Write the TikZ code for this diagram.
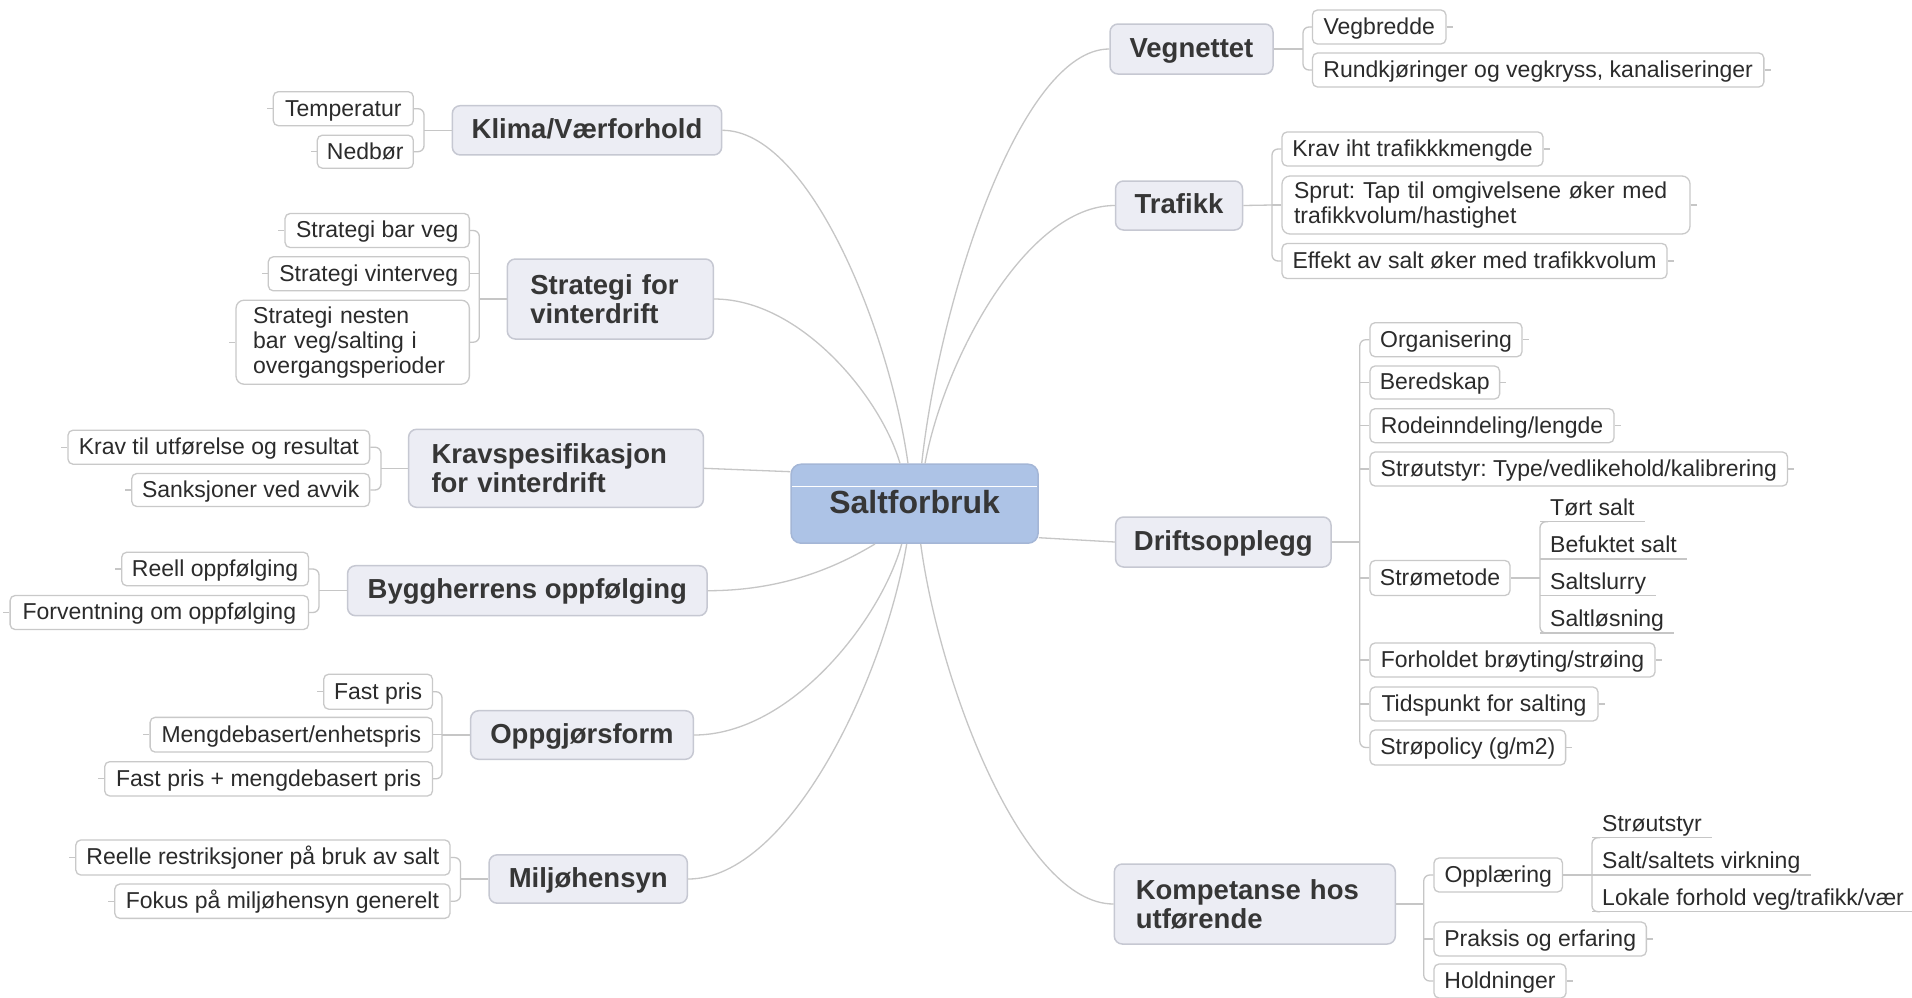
\documentclass[tikz,border=0pt]{standalone}
\usepackage{fontspec}
\setmainfont{Liberation Sans}
\frenchspacing
\definecolor{connc}{HTML}{C6C6C6}
\definecolor{leafb}{HTML}{C9C9C9}
\definecolor{topicf}{HTML}{ECEDF4}
\definecolor{topicb}{HTML}{C6C8D2}
\definecolor{centf}{HTML}{ADC3E6}
\definecolor{centb}{HTML}{A4B6D6}
\definecolor{txt}{HTML}{2B2B2B}
\definecolor{ttxt}{HTML}{363636}
\tikzset{
  conn/.style={draw=connc, line width=1.3pt},
  rc/.style={rounded corners=6pt},
  wh/.style 2 args={minimum width=#1pt, minimum height=#2pt},
  leafbase/.style={draw=leafb, fill=white, line width=1.3pt, rounded corners=5pt, inner sep=0pt, text=txt, font=\fontsize{23}{25}\selectfont\frenchspacing},
  leaf/.style={leafbase, text height=19.5pt, text depth=4.6pt},
  leafm/.style={leafbase, rounded corners=8pt, align=left},
  topicbase/.style={draw=topicb, fill=topicf, line width=1.5pt, rounded corners=8pt, inner sep=0pt, text=ttxt, font=\fontsize{27.5}{29}\selectfont\bfseries},
  topic/.style={topicbase, text height=22pt, text depth=6pt},
  topicm/.style={topicbase, align=left},
  central/.style={draw=centb, fill=centf, line width=1.5pt, rounded corners=10pt, inner sep=0pt, text=ttxt, font=\fontsize{32}{36}\selectfont\bfseries, text height=26.2pt, text depth=7pt},
  ulnode/.style={anchor=south west, inner xsep=10pt, inner ysep=1.5pt, text=txt, font=\fontsize{23}{25}\selectfont, text height=17pt, text depth=4.6pt},
}
\begin{document}
\begin{tikzpicture}[x=1pt,y=-1pt]
\fill[white] (0,0) rectangle (1912,997);
\useasboundingbox (0,0) rectangle (1912,997);

% central
\node[central, wh={247}{79}] (c) at (914.6,503.7) {Saltforbruk};
\draw[white, line width=0.9pt, shorten <=1.5pt, shorten >=1.5pt] ([yshift=17pt]c.west) -- ([yshift=17pt]c.east);

% right topics
\node[topic, wh={163}{50}] (veg) at (1191.5,49) {Vegnettet};
\node[topic, wh={127}{49}] (traf) at (1179,205.5) {Trafikk};
\node[topic, wh={215.4}{50}] (drift) at (1223.3,542) {Driftsopplegg};
\node[topicm, wh={281}{80}, text width=238pt] (komp) at (1254.8,904) {Kompetanse hos\\utførende};

% left topics
\node[topic, wh={269.4}{49.3}] (klima) at (587,130.3) {Klima/Værforhold};
\node[topicm, wh={206}{80}, text width=160pt] (strat) at (610.3,299) {Strategi for\\vinterdrift};
\node[topicm, wh={294.8}{78}, text width=249pt] (kravs) at (556,468.3) {Kravspesifikasjon\\for vinterdrift};
\node[topic, wh={359.5}{50}] (bygg) at (527.3,590.7) {Byggherrens oppfølging};
\node[topic, wh={222.7}{48.6}] (oppg) at (582,735) {Oppgjørsform};
\node[topic, wh={198.3}{48.3}] (milj) at (588.2,879) {Miljøhensyn};

% right leaves
\node[leaf, wh={133.5}{34}] (vegbredde) at (1379.2,27) {Vegbredde};
\node[leaf, wh={451.3}{34}] (rund) at (1538.2,70) {Rundkjøringer og vegkryss, kanaliseringer};
\node[leaf, wh={261}{34}] (krav1) at (1412.5,149) {Krav iht trafikkkmengde};
\node[leafm, wh={408}{58}, text width=384pt] (sprut) at (1486,205) {Sprut: Tap til omgivelsene øker med\\trafikkvolum/hastighet};
\node[leaf, wh={385}{35}] (effekt) at (1474.5,261) {Effekt av salt øker med trafikkvolum};

\node[leaf, wh={152}{34}] (org) at (1446,339.7) {Organisering};
\node[leaf, wh={129.6}{33}] (bered) at (1434.8,382.5) {Beredskap};
\node[leaf, wh={244}{34}] (rode) at (1492,425.7) {Rodeinndeling/lengde};
\node[leaf, wh={417.5}{34}] (strout) at (1578.8,469) {Strøutstyr: Type/vedlikehold/kalibrering};
\node[leaf, wh={140}{35}] (stromet) at (1440,578) {Strømetode};
\node[leaf, wh={285}{34}] (forh) at (1512.5,660) {Forholdet brøyting/strøing};
\node[leaf, wh={228}{34}] (tids) at (1484,704) {Tidspunkt for salting};
\node[leaf, wh={195.6}{35}] (strop) at (1467.8,747.5) {Strøpolicy (g/m2)};

\node[leaf, wh={128.5}{34}] (opp) at (1498.2,875) {Opplæring};
\node[leaf, wh={212.3}{34}] (praks) at (1540.2,939) {Praksis og erfaring};
\node[leaf, wh={132}{34}] (hold) at (1500,981) {Holdninger};

% underlined sub-leaves
\node[ulnode] (tort) at (1540,521.7) {Tørt salt};
\node[ulnode] (befukt) at (1540,559) {Befuktet salt};
\node[ulnode] (slurry) at (1540,595.7) {Saltslurry};
\node[ulnode] (losn) at (1540,633) {Saltløsning};
\node[ulnode] (su1) at (1592,837.7) {Strøutstyr};
\node[ulnode] (su2) at (1592,875) {Salt/saltets virkning};
\node[ulnode] (su3) at (1592,911.7) {Lokale forhold veg/trafikk/vær};

% left leaves
\node[leaf, wh={140}{34}] (temp) at (343.3,108.7) {Temperatur};
\node[leaf, wh={96}{33}] (nedb) at (365.3,151.7) {Nedbør};
\node[leaf, wh={184.3}{34}] (sbar) at (377.2,230.5) {Strategi bar veg};
\node[leaf, wh={201}{34}] (svint) at (368.8,273.8) {Strategi vinterveg};
\node[leafm, wh={233.3}{84}, text width=199pt] (snest) at (352.7,342.2) {Strategi nesten\\bar veg/salting i\\overgangsperioder};
\node[leaf, wh={301.6}{34}] (kravutf) at (218.8,447.2) {Krav til utførelse og resultat};
\node[leaf, wh={237.8}{33}] (sanks) at (250.7,490) {Sanksjoner ved avvik};
\node[leaf, wh={186.8}{33.5}] (reell) at (215.1,569) {Reell oppfølging};
\node[leaf, wh={298.4}{34}] (forv) at (159.3,612.5) {Forventning om oppfølging};
\node[leaf, wh={108.8}{35}] (fast) at (378.1,691.7) {Fast pris};
\node[leaf, wh={282.4}{34.7}] (mengde) at (291.3,734.7) {Mengdebasert/enhetspris};
\node[leaf, wh={327.8}{34.3}] (fastm) at (268.6,778.8) {Fast pris + mengdebasert pris};
\node[leaf, wh={374.2}{35}] (reelle) at (262.9,857.5) {Reelle restriksjoner på bruk av salt};
\node[leaf, wh={335.2}{34.3}] (fokus) at (282.4,901.2) {Fokus på miljøhensyn generelt};

% central connectors
\draw[conn] ([xshift=-6.6pt]c.north) .. controls (889.4,330.5) and (809.3,130.3) .. (klima.east);
\draw[conn] ([xshift=-14.6pt]c.north) .. controls (881.3,398) and (801,299) .. (strat.east);
\draw[conn] ([yshift=32pt]c.west) -- (kravs.east);
\draw[conn] ([xshift=-39.6pt]c.south) .. controls (840,565) and (786,590.7) .. (bygg.east);
\draw[conn] ([xshift=-12.9pt]c.south) .. controls (880.8,619.8) and (791,735) .. (oppg.east);
\draw[conn] ([xshift=-7.9pt]c.south) .. controls (884.7,677) and (790,879) .. (milj.east);
\draw[conn] ([xshift=7.1pt]c.north) .. controls (940,297) and (1021,49) .. (veg.west);
\draw[conn] ([xshift=10.4pt]c.north) .. controls (944,360) and (1026,205.5) .. (traf.west);
\draw[conn] ([yshift=-34pt]c.east) -- (drift.west);
\draw[conn] ([xshift=6.1pt]c.south) .. controls (940,687) and (1023.7,904) .. (komp.west);

% right brackets
\coordinate (vegb) at (1303,49);
\draw[conn] (veg.east) -- (vegb);
\draw[conn, rc] (vegbredde.west) -| (vegb) |- (rund.west);

\coordinate (trafb) at (1272,205);
\draw[conn] (traf.east) -- (trafb);
\draw[conn, rc] (krav1.west) -| (trafb) |- (effekt.west);
\draw[conn] (sprut.west) -- (sprut.west -| trafb);

\coordinate (driftb) at (1359.8,542);
\draw[conn] (drift.east) -- (driftb);
\draw[conn, rc] (org.west) -| (driftb) |- (strop.west);
\foreach \n in {bered,rode,strout,stromet,forh,tids}
  \draw[conn] (\n.west) -- (\n.west -| driftb);

\coordinate (smb) at (1540,578);
\draw[conn] (stromet.east) -- (smb);
\foreach \n in {tort,befukt,slurry,losn,su1,su2,su3}
  \draw[conn] (\n.south west) -- (\n.south east);
\draw[conn] (su3.south east) -- ++(20,0);
\draw[conn, rc] ([xshift=8pt]tort.south west) -| (smb) |- ([xshift=8pt]losn.south west);

\coordinate (kompb) at (1423.7,904);
\draw[conn] (komp.east) -- (kompb);
\draw[conn, rc] (opp.west) -| (kompb) |- (hold.west);
\draw[conn] (praks.west) -- (praks.west -| kompb);

\coordinate (oppb) at (1592,875);
\draw[conn] (opp.east) -- (oppb);
\draw[conn, rc] ([xshift=8pt]su1.south west) -| (oppb) |- ([xshift=8pt]su3.south west);

% left brackets
\coordinate (klimab) at (424,130.3);
\draw[conn] (klima.west) -- (klimab);
\draw[conn, rc] (temp.east) -| (klimab) |- (nedb.east);

\coordinate (stratb) at (479.3,299);
\draw[conn] (strat.west) -- (stratb);
\draw[conn, rc] (sbar.east) -| (stratb) |- (snest.east);
\draw[conn] (svint.east) -- (svint.east -| stratb);

\coordinate (kravsb) at (381,468.3);
\draw[conn] (kravs.west) -- (kravsb);
\draw[conn, rc] (kravutf.east) -| (kravsb) |- (sanks.east);

\coordinate (byggb) at (319,590.7);
\draw[conn] (bygg.west) -- (byggb);
\draw[conn, rc] (reell.east) -| (byggb) |- (forv.east);

\coordinate (oppgb) at (442,735);
\draw[conn] (oppg.west) -- (oppgb);
\draw[conn, rc] (fast.east) -| (oppgb) |- (fastm.east);
\draw[conn] (mengde.east) -- (mengde.east -| oppgb);

\coordinate (miljb) at (460.5,879);
\draw[conn] (milj.west) -- (miljb);
\draw[conn, rc] (reelle.east) -| (miljb) |- (fokus.east);

% outer stubs
\foreach \n in {vegbredde,rund,krav1,sprut,effekt,org,bered,rode,strout,forh,tids,strop,praks,hold}
  \draw[conn] (\n.east) -- ++(6,0);
\foreach \n in {temp,nedb,sbar,svint,snest,kravutf,sanks,reell,forv,fast,mengde,fastm,reelle,fokus}
  \draw[conn] (\n.west) -- ++(-6,0);
\end{tikzpicture}
\end{document}
